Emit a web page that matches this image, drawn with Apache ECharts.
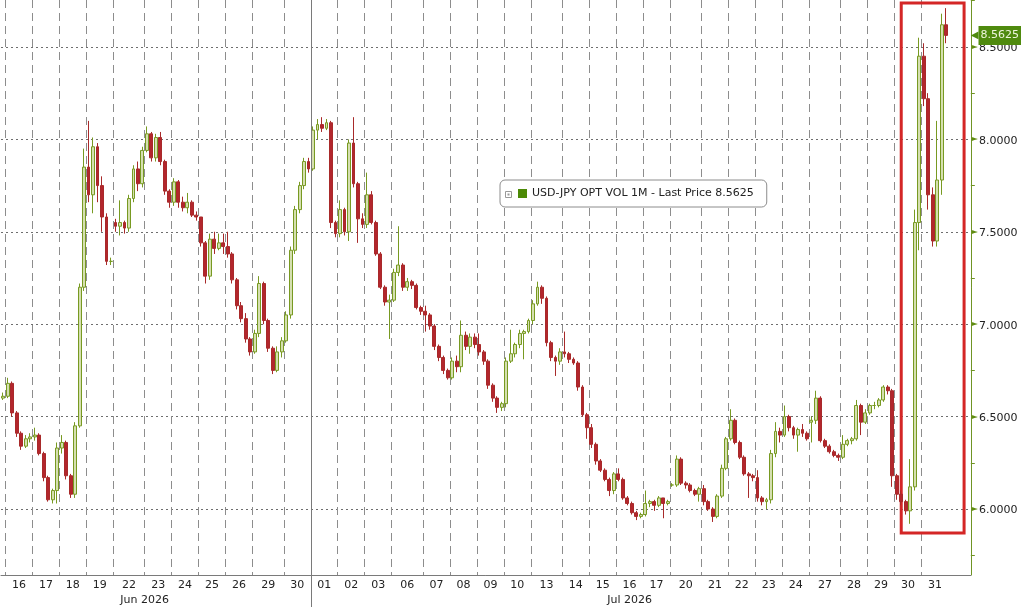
<!DOCTYPE html>
<html>
<head>
<meta charset="utf-8">
<script src="https://cdn.jsdelivr.net/npm/echarts@6/dist/echarts.min.js"></script>
<style>
  html, body { margin: 0; padding: 0; background: #fff; }
  #chart { width: 1024px; height: 607px; }
</style>
</head>
<body>
<div id="chart"></div>
<script>
// trading days shown on the axis (the first one is a partial session, not labelled)
var days = ['15', '16', '17', '18', '19', '22', '23', '24', '25', '26', '29', '30',
  '01', '02', '03', '06', '07', '08', '09', '10', '13', '14', '15', '16', '17',
  '20', '21', '22', '23', '24', '27', '28', '29', '30', '31'];
var dayMonth = ['Jun', 'Jun', 'Jun', 'Jun', 'Jun', 'Jun', 'Jun', 'Jun', 'Jun', 'Jun', 'Jun', 'Jun',
  'Jul', 'Jul', 'Jul', 'Jul', 'Jul', 'Jul', 'Jul', 'Jul', 'Jul', 'Jul', 'Jul', 'Jul', 'Jul',
  'Jul', 'Jul', 'Jul', 'Jul', 'Jul', 'Jul', 'Jul', 'Jul', 'Jul', 'Jul'];
var monthNames = ['Jun 2026', 'Jul 2026'];

// intraday candles per day: [open, close, low, high]
var ohlc = [
  [[6.60, 6.61, 6.59, 6.63]],
  [[6.61, 6.68, 6.60, 6.71], [6.68, 6.52, 6.50, 6.69], [6.52, 6.41, 6.39, 6.53], [6.41, 6.34, 6.32, 6.42], [6.34, 6.38, 6.33, 6.40], [6.38, 6.39, 6.36, 6.41]],
  [[6.39, 6.40, 6.37, 6.44], [6.40, 6.30, 6.29, 6.41], [6.30, 6.17, 6.15, 6.31], [6.17, 6.05, 6.04, 6.18], [6.05, 6.10, 6.03, 6.11], [6.10, 6.33, 6.03, 6.36]],
  [[6.33, 6.36, 6.30, 6.40], [6.36, 6.18, 6.16, 6.37], [6.18, 6.08, 6.06, 6.19], [6.08, 6.45, 6.06, 6.47], [6.45, 7.20, 6.44, 7.22], [7.20, 7.85, 7.18, 7.95]],
  [[7.85, 7.70, 7.66, 8.10], [7.70, 7.96, 7.60, 8.01], [7.96, 7.75, 7.66, 7.98], [7.75, 7.58, 7.50, 7.80], [7.58, 7.34, 7.32, 7.60], [7.34, 7.34, 7.32, 7.36]],
  [[7.55, 7.53, 7.50, 7.57], [7.53, 7.55, 7.48, 7.67], [7.55, 7.52, 7.49, 7.56], [7.52, 7.68, 7.50, 7.70], [7.68, 7.84, 7.66, 7.86], [7.84, 7.76, 7.72, 7.88], [7.76, 7.94, 7.74, 7.96]],
  [[7.94, 8.03, 7.93, 8.07], [8.03, 7.90, 7.88, 8.04], [7.90, 8.01, 7.88, 8.03], [8.01, 7.88, 7.86, 8.04], [7.88, 7.72, 7.70, 7.89], [7.72, 7.66, 7.63, 7.73]],
  [[7.66, 7.77, 7.64, 7.79], [7.77, 7.66, 7.63, 7.78], [7.66, 7.63, 7.61, 7.69], [7.63, 7.66, 7.60, 7.71], [7.66, 7.59, 7.58, 7.67], [7.59, 7.58, 7.56, 7.61]],
  [[7.58, 7.44, 7.42, 7.58], [7.44, 7.26, 7.22, 7.45], [7.26, 7.46, 7.24, 7.49], [7.46, 7.41, 7.38, 7.50], [7.41, 7.44, 7.40, 7.49], [7.44, 7.42, 7.38, 7.49]],
  [[7.42, 7.38, 7.36, 7.50], [7.38, 7.24, 7.22, 7.39], [7.24, 7.10, 7.08, 7.25], [7.10, 7.03, 7.01, 7.12], [7.03, 6.92, 6.90, 7.06], [6.92, 6.85, 6.83, 6.93]],
  [[6.85, 6.95, 6.84, 6.97], [6.95, 7.22, 6.93, 7.26], [7.22, 7.02, 7.00, 7.23], [7.02, 6.87, 6.85, 7.03], [6.87, 6.75, 6.73, 6.88], [6.75, 6.85, 6.74, 6.88], [6.85, 6.91, 6.82, 6.93]],
  [[6.91, 7.05, 6.90, 7.07], [7.05, 7.40, 7.03, 7.42], [7.40, 7.62, 7.38, 7.64], [7.62, 7.75, 7.60, 7.77], [7.75, 7.88, 7.73, 7.90], [7.88, 7.84, 7.82, 7.90]],
  [[7.84, 8.05, 7.83, 8.07], [8.05, 8.08, 8.00, 8.11], [8.08, 8.06, 8.04, 8.12], [8.06, 8.09, 8.05, 8.11], [8.09, 7.55, 7.52, 8.10], [7.55, 7.49, 7.47, 7.56]],
  [[7.49, 7.62, 7.47, 7.67], [7.62, 7.50, 7.48, 7.63], [7.50, 7.98, 7.45, 8.00], [7.98, 7.76, 7.74, 8.12], [7.76, 7.57, 7.44, 7.77], [7.57, 7.54, 7.52, 7.60]],
  [[7.54, 7.70, 7.52, 7.82], [7.70, 7.55, 7.54, 7.72], [7.55, 7.38, 7.37, 7.56], [7.38, 7.20, 7.19, 7.39], [7.20, 7.12, 7.10, 7.21], [7.12, 7.13, 6.92, 7.16]],
  [[7.13, 7.28, 7.12, 7.30], [7.28, 7.32, 7.26, 7.53], [7.32, 7.20, 7.18, 7.33], [7.20, 7.23, 7.18, 7.25], [7.23, 7.21, 7.19, 7.24], [7.21, 7.09, 7.08, 7.22], [7.09, 7.07, 7.05, 7.10]],
  [[7.07, 7.05, 6.96, 7.10], [7.05, 6.99, 6.97, 7.06], [6.99, 6.88, 6.86, 7.00], [6.88, 6.82, 6.80, 6.89], [6.82, 6.75, 6.73, 6.83], [6.75, 6.71, 6.70, 6.76]],
  [[6.71, 6.80, 6.70, 6.82], [6.80, 6.77, 6.74, 6.83], [6.77, 6.94, 6.74, 7.02], [6.94, 6.88, 6.86, 6.96], [6.88, 6.93, 6.84, 6.95], [6.93, 6.89, 6.87, 6.95]],
  [[6.89, 6.85, 6.83, 6.95], [6.85, 6.80, 6.78, 6.86], [6.80, 6.67, 6.65, 6.81], [6.67, 6.60, 6.58, 6.68], [6.60, 6.55, 6.52, 6.61], [6.55, 6.57, 6.53, 6.58]],
  [[6.57, 6.80, 6.55, 6.82], [6.80, 6.84, 6.79, 6.97], [6.84, 6.89, 6.82, 6.90], [6.89, 6.95, 6.87, 6.97], [6.95, 6.96, 6.81, 6.97], [6.96, 7.02, 6.95, 7.03]],
  [[7.02, 7.11, 7.00, 7.13], [7.11, 7.20, 7.10, 7.23], [7.20, 7.14, 7.11, 7.21], [7.14, 6.90, 6.88, 7.15], [6.90, 6.82, 6.80, 6.91], [6.82, 6.80, 6.72, 6.83], [6.80, 6.85, 6.78, 6.87]],
  [[6.85, 6.84, 6.82, 6.96], [6.84, 6.81, 6.79, 6.85], [6.81, 6.79, 6.78, 6.82], [6.79, 6.66, 6.64, 6.80], [6.66, 6.51, 6.50, 6.67], [6.51, 6.44, 6.38, 6.52]],
  [[6.44, 6.35, 6.33, 6.46], [6.35, 6.26, 6.24, 6.36], [6.26, 6.21, 6.20, 6.27], [6.21, 6.16, 6.15, 6.22], [6.16, 6.10, 6.07, 6.17], [6.10, 6.19, 6.08, 6.20]],
  [[6.19, 6.16, 6.15, 6.22], [6.16, 6.06, 6.05, 6.17], [6.06, 6.03, 6.02, 6.07], [6.03, 5.98, 5.97, 6.04], [5.98, 5.96, 5.94, 5.99], [5.96, 5.97, 5.95, 5.98]],
  [[5.97, 6.03, 5.96, 6.10], [6.03, 6.04, 6.01, 6.05], [6.04, 6.02, 5.99, 6.05], [6.02, 6.06, 6.01, 6.07], [6.06, 6.03, 5.95, 6.06], [6.03, 6.04, 6.02, 6.05]],
  [[6.13, 6.13, 6.12, 6.14], [6.13, 6.27, 6.12, 6.29], [6.27, 6.14, 6.13, 6.28], [6.14, 6.13, 6.11, 6.15], [6.13, 6.10, 6.09, 6.14], [6.10, 6.08, 6.07, 6.11], [6.08, 6.11, 6.04, 6.12]],
  [[6.11, 6.04, 6.02, 6.13], [6.04, 6.00, 5.99, 6.05], [6.00, 5.96, 5.93, 6.01], [5.96, 6.07, 5.95, 6.08], [6.07, 6.22, 6.06, 6.24], [6.22, 6.38, 6.21, 6.39]],
  [[6.38, 6.48, 6.37, 6.54], [6.48, 6.36, 6.35, 6.49], [6.36, 6.28, 6.27, 6.37], [6.28, 6.19, 6.18, 6.29], [6.19, 6.18, 6.06, 6.20], [6.18, 6.17, 6.15, 6.19]],
  [[6.17, 6.06, 6.04, 6.21], [6.06, 6.04, 6.02, 6.07], [6.04, 6.05, 6.00, 6.06], [6.05, 6.30, 6.03, 6.32], [6.30, 6.42, 6.28, 6.47], [6.42, 6.40, 6.36, 6.44]],
  [[6.40, 6.50, 6.39, 6.56], [6.50, 6.44, 6.42, 6.51], [6.44, 6.40, 6.38, 6.45], [6.40, 6.43, 6.31, 6.44], [6.43, 6.41, 6.39, 6.46], [6.41, 6.38, 6.37, 6.42]],
  [[6.47, 6.48, 6.36, 6.50], [6.48, 6.60, 6.46, 6.64], [6.60, 6.37, 6.36, 6.61], [6.37, 6.34, 6.33, 6.38], [6.34, 6.31, 6.30, 6.35], [6.31, 6.29, 6.28, 6.32], [6.29, 6.28, 6.26, 6.30]],
  [[6.28, 6.35, 6.27, 6.40], [6.35, 6.37, 6.34, 6.38], [6.37, 6.38, 6.35, 6.39], [6.38, 6.56, 6.37, 6.59], [6.56, 6.47, 6.40, 6.57], [6.47, 6.52, 6.46, 6.54]],
  [[6.52, 6.56, 6.51, 6.57], [6.56, 6.56, 6.54, 6.58], [6.56, 6.59, 6.55, 6.60], [6.59, 6.66, 6.58, 6.67], [6.66, 6.64, 6.62, 6.67], [6.64, 6.18, 6.12, 6.65]],
  [[6.18, 6.08, 6.05, 6.19], [6.08, 6.04, 6.02, 6.10], [6.04, 5.99, 5.97, 6.05], [5.99, 6.12, 5.92, 6.27], [6.12, 7.55, 6.10, 7.62], [7.55, 8.45, 7.40, 8.55]],
  [[8.45, 8.22, 8.18, 8.52], [8.22, 7.70, 7.62, 8.25], [7.70, 7.45, 7.42, 7.74], [7.45, 7.78, 7.42, 8.10], [7.78, 8.62, 7.70, 8.68], [8.62, 8.5625, 8.52, 8.71]]
];
var lastPrice = 8.5625;
var priceLabels = [6.0, 6.5, 7.0, 7.5, 8.0, 8.5];
var priceMinorTicks = [5.75, 6.25, 6.75, 7.25, 7.75, 8.25, 8.75];
var yMin = 5.643, yMax = 8.754;
var padSlots = 5;
// highlighted box: from start of Jul 30 to a few slots past the last candle
var boxFromSlot = 200, boxToSlot = 214, boxTop = 8.738, boxBottom = 5.87;

var FONT = 'DejaVu Sans';
var cats = [], candles = [], dayStart = {}, labelAt = {};
ohlc.forEach(function(list, d) {
  var start = cats.length;
  dayStart[start] = true;
  list.forEach(function(c, k) {
    cats.push(dayMonth[d] + ' ' + days[d] + ' #' + k);
    candles.push(c);
  });
  if (d > 0) {
    labelAt[start + Math.floor(list.length / 2)] = { text: days[d], even: list.length % 2 === 0 };
  }
});
for (var i = 0; i < padSlots; i++) { cats.push('pad ' + i); candles.push('-'); }

var chart = echarts.init(document.getElementById('chart'), null, { renderer: 'canvas' });
chart.setOption({
  animation: false,
  backgroundColor: '#fff',
  textStyle: { fontFamily: FONT },
  grid: { left: 1, right: 48, top: 0, bottom: 32, containLabel: false },
  legend: {
    left: 500, top: 180,
    padding: [8, 13, 8, 18],
    backgroundColor: '#fff',
    borderColor: '#8c8c8c', borderWidth: 1, borderRadius: 5,
    icon: 'rect', itemWidth: 9, itemHeight: 9,
    textStyle: { fontSize: 11, color: '#222', fontFamily: FONT },
    formatter: function(n) { return n + ' - Last Price ' + lastPrice.toFixed(4); },
    data: [{ name: 'USD-JPY OPT VOL 1M', itemStyle: { color: '#4c8a06', borderWidth: 0 } }]
  },
  xAxis: {
    type: 'category',
    data: cats,
    boundaryGap: true,
    axisLine: { lineStyle: { color: '#7a7a7a', width: 1 } },
    axisTick: { show: false },
    axisLabel: {
      interval: function(index) { return !!labelAt[index]; },
      formatter: function(v, index) {
        var l = labelAt[index];
        return l ? (l.even ? '{e|' + l.text + '}' : '{o|' + l.text + '}') : '';
      },
      margin: 5,
      rich: {
        e: { fontSize: 11, color: '#222', fontFamily: FONT, padding: [0, 4.5, 0, 0] },
        o: { fontSize: 11, color: '#222', fontFamily: FONT }
      }
    },
    splitLine: {
      show: true,
      interval: function(index) { return !!dayStart[index] && index > 0; },
      lineStyle: { color: '#8d8d8d', type: [8, 5], width: 1 }
    }
  },
  yAxis: [{
    type: 'value',
    position: 'right',
    min: yMin, max: yMax,
    axisLine: { show: true, lineStyle: { color: '#6f9424', width: 1 } },
    axisTick: { show: false, customValues: priceLabels },
    axisLabel: {
      customValues: priceLabels,
      margin: 1,
      formatter: function(v) { return '{a|\u25BA}{b|' + v.toFixed(4) + '}'; },
      rich: {
        a: { color: '#5f8c12', fontSize: 8, padding: [0, 1, 0, 0], fontFamily: FONT },
        b: { color: '#222', fontSize: 11, fontFamily: FONT, padding: [3, 0, 0, 0] }
      }
    },
    splitLine: { show: true, lineStyle: { color: '#6e6e6e', type: [2, 3], width: 1 } }
  }, {
    type: 'value',
    position: 'right',
    min: yMin, max: yMax,
    axisLine: { show: false },
    axisTick: { show: true, inside: false, length: 4, customValues: priceMinorTicks, lineStyle: { color: '#6f9424' } },
    axisLabel: { show: false },
    splitLine: { show: false }
  }, {
    // last price tag
    type: 'value',
    position: 'right',
    min: yMin, max: yMax,
    axisLine: { show: false },
    axisTick: { show: false, customValues: [lastPrice] },
    axisLabel: {
      customValues: [lastPrice],
      margin: 0,
      formatter: function(v) { return '{a|\u25C0}{t|' + v.toFixed(4) + '}'; },
      rich: {
        a: { color: '#4f8a0e', fontSize: 10, fontFamily: FONT, padding: [0, 0, 0, 0] },
        t: { color: '#eef5dc', backgroundColor: '#4f8a0e', fontSize: 11, fontFamily: FONT, padding: [4, 2, 4, 2] }
      }
    },
    splitLine: { show: false }
  }],
  series: [{
    name: 'USD-JPY OPT VOL 1M',
    type: 'candlestick',
    data: candles,
    barWidth: '75%',
    itemStyle: {
      color: '#d5dfb0', borderColor: '#789a22',
      color0: '#b3262d', borderColor0: '#a82a2a',
      borderWidth: 1
    },
    markArea: {
      silent: true,
      itemStyle: { color: 'rgba(0,0,0,0)', borderColor: '#d42626', borderWidth: 3 },
      data: [[{ xAxis: cats[boxFromSlot], yAxis: boxTop }, { xAxis: cats[boxToSlot], yAxis: boxBottom }]]
    }
  }]
});

// month separator and month names, placed through the category scale
var slotW = chart.convertToPixel({ xAxisIndex: 0 }, cats[1]) - chart.convertToPixel({ xAxisIndex: 0 }, cats[0]);
var julStart = dayMonth.indexOf('Jul');
var julSlot = 0;
for (var d = 0; d < julStart; d++) julSlot += ohlc[d].length;
var sepX = Math.round(chart.convertToPixel({ xAxisIndex: 0 }, cats[julSlot]) - slotW / 2) + 0.5;
var junX = chart.convertToPixel({ xAxisIndex: 0 }, cats[32]) - slotW / 2;
var julX = chart.convertToPixel({ xAxisIndex: 0 }, cats[139]) + slotW / 2;
chart.setOption({
  graphic: [
    { type: 'line', shape: { x1: sepX, y1: 0, x2: sepX, y2: 607 }, style: { stroke: '#7a7a7a', lineWidth: 1 }, z: 10 },
    { type: 'text', x: junX, y: 600, style: { text: monthNames[0], fill: '#222', font: '11px "DejaVu Sans"', align: 'center', verticalAlign: 'middle' } },
    { type: 'text', x: julX, y: 600, style: { text: monthNames[1], fill: '#222', font: '11px "DejaVu Sans"', align: 'center', verticalAlign: 'middle' } },
    { type: 'rect', shape: { x: 505.5, y: 191.5, width: 6, height: 6 }, style: { fill: '#fff', stroke: '#999', lineWidth: 1 }, z: 20 },
    { type: 'rect', shape: { x: 507.5, y: 193.5, width: 2, height: 2 }, style: { fill: '#999' }, z: 20 }
  ]
});
window.addEventListener('resize', function() { chart.resize(); });
</script>
</body>
</html>
